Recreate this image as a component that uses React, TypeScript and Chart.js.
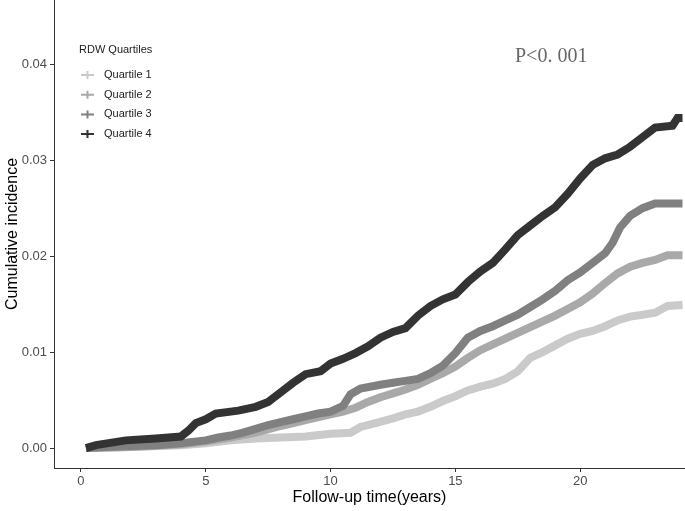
import React, { useEffect, useRef } from "react";
import { Chart, registerables } from "chart.js";

Chart.register(...registerables);

const seriesNames = ["Quartile 1", "Quartile 2", "Quartile 3", "Quartile 4"];
const seriesColors = ["#cacaca", "#a9a9a9", "#808080", "#333333"];

const q1Time = [0.3, 2, 4, 5, 6, 7, 8, 9, 10, 10.8, 11.2, 11.8, 12.5, 13, 13.5, 14, 14.5, 15, 15.5, 16, 16.5, 17, 17.5, 18, 18.5, 19, 19.5, 20, 20.5, 21, 21.5, 22, 22.5, 23, 23.5, 24.1];
const q1Value = [0, 0.0001, 0.0003, 0.0005, 0.0008, 0.001, 0.0011, 0.0012, 0.0015, 0.0016, 0.0022, 0.0026, 0.0031, 0.0035, 0.0038, 0.0043, 0.0049, 0.0054, 0.006, 0.0064, 0.0067, 0.0072, 0.008, 0.0094, 0.01, 0.0107, 0.0114, 0.0119, 0.0122, 0.0127, 0.0133, 0.0137, 0.0139, 0.0141, 0.0148, 0.0149];

const q2Time = [0.2, 2, 4, 5, 6, 7, 8, 9, 10, 10.5, 11, 11.5, 12, 12.5, 13, 13.5, 14, 14.5, 15, 15.5, 16, 16.5, 17, 17.5, 18, 18.5, 19, 19.5, 20, 20.5, 21, 21.5, 22, 22.5, 23, 23.5, 24.1];
const q2Value = [0, 0.0001, 0.0004, 0.0007, 0.0011, 0.0016, 0.0023, 0.0029, 0.0035, 0.0038, 0.0042, 0.0048, 0.0053, 0.0057, 0.0061, 0.0066, 0.0072, 0.0078, 0.0085, 0.0094, 0.0102, 0.0108, 0.0114, 0.012, 0.0126, 0.0132, 0.0138, 0.0145, 0.0152, 0.0161, 0.0172, 0.0182, 0.0189, 0.0193, 0.0196, 0.0201, 0.0201];

const q3Time = [0.2, 1, 2, 3, 4, 5, 5.5, 6, 6.5, 7, 7.5, 8, 8.5, 9, 9.5, 10, 10.5, 10.8, 11.2, 12, 12.5, 13, 13.5, 14, 14.5, 15, 15.5, 16, 16.5, 17, 17.5, 18, 18.5, 19, 19.5, 20, 20.5, 21, 21.3, 21.6, 22, 22.5, 23, 24.1];
const q3Value = [0, 0.0001, 0.0002, 0.0003, 0.0005, 0.0008, 0.0011, 0.0013, 0.0016, 0.002, 0.0024, 0.0027, 0.003, 0.0033, 0.0036, 0.0038, 0.0044, 0.0056, 0.0062, 0.0066, 0.0068, 0.007, 0.0072, 0.0078, 0.0086, 0.0099, 0.0115, 0.0122, 0.0127, 0.0133, 0.0139, 0.0147, 0.0155, 0.0164, 0.0175, 0.0183, 0.0193, 0.0203, 0.0214, 0.023, 0.0242, 0.025, 0.0255, 0.0255];

const q4Time = [0.2, 0.6, 1.8, 3, 4, 4.3, 4.6, 5, 5.4, 6.3, 7, 7.5, 8, 8.5, 9, 9.6, 10, 10.5, 11, 11.5, 12, 12.5, 13, 13.5, 14, 14.5, 15, 15.5, 16, 16.5, 17, 17.5, 18, 18.5, 19, 19.5, 20, 20.5, 21, 21.5, 22, 22.5, 23, 23.7, 23.9, 24.1];
const q4Value = [0, 0.0003, 0.0008, 0.001, 0.0012, 0.0018, 0.0026, 0.003, 0.0036, 0.0039, 0.0043, 0.0048, 0.0058, 0.0068, 0.0077, 0.008, 0.0088, 0.0093, 0.0099, 0.0106, 0.0115, 0.0121, 0.0125, 0.0138, 0.0148, 0.0155, 0.016, 0.0173, 0.0184, 0.0193, 0.0207, 0.0222, 0.0232, 0.0242, 0.0251, 0.0265, 0.0281, 0.0295, 0.0302, 0.0306, 0.0314, 0.0324, 0.0334, 0.0336, 0.0344, 0.0344];

const xTicks = [0, 5, 10, 15, 20];
const yTicks = [0, 0.01, 0.02, 0.03, 0.04];
const legendTitle = "RDW Quartiles";
const pText = "P<0. 001";
const xTitle = "Follow-up time(years)";
const yTitle = "Cumulative incidence";

const times = [q1Time, q2Time, q3Time, q4Time];
const values = [q1Value, q2Value, q3Value, q4Value];

const overlayPlugin = {
  id: "overlay",
  afterDraw(chart: any) {
    const ctx = chart.ctx;
    const area = chart.chartArea;
    ctx.save();
    ctx.textBaseline = "middle";
    ctx.textAlign = "left";
    ctx.fillStyle = "#222";
    ctx.font = "11px 'Liberation Sans', Arial, sans-serif";
    const lx = area.left + 25;
    ctx.fillText(legendTitle, lx, 50);
    seriesNames.forEach((name, i) => {
      const y = 75 + i * 19.7;
      ctx.strokeStyle = seriesColors[i];
      ctx.lineWidth = 2;
      ctx.beginPath();
      ctx.moveTo(lx + 2, y);
      ctx.lineTo(lx + 15, y);
      ctx.moveTo(lx + 8.5, y - 4);
      ctx.lineTo(lx + 8.5, y + 4);
      ctx.stroke();
      ctx.fillStyle = "#222";
      ctx.fillText(name, lx + 25, y);
    });
    ctx.fillStyle = "#666";
    ctx.font = "20px 'Liberation Serif', 'DejaVu Serif', serif";
    ctx.fillText(pText, 515, 57);
    ctx.restore();
  },
};

export default function App() {
  const ref = useRef<HTMLCanvasElement | null>(null);
  useEffect(() => {
    if (!ref.current) return;
    const datasets = seriesNames.map((name, i) => ({
      label: name,
      data: times[i].map((t, j) => ({ x: t, y: values[i][j] })),
      borderColor: seriesColors[i],
      backgroundColor: seriesColors[i],
      borderWidth: 8,
      tension: 0,
      pointRadius: 0,
      fill: false,
      order: 3 - i,
      borderCapStyle: "butt" as const,
      borderJoinStyle: "miter" as const,
    }));
    const tickFont = { family: "'Liberation Sans', Arial, sans-serif", size: 13 };
    const chart = new Chart(ref.current, {
      type: "line",
      data: { datasets },
      plugins: [overlayPlugin],
      options: {
        animation: false,
        responsive: true,
        maintainAspectRatio: false,
        layout: { padding: 0 },
        plugins: { legend: { display: false }, tooltip: { enabled: false } },
        scales: {
          x: {
            type: "linear",
            min: -1.08,
            max: 24.2,
            afterBuildTicks: (axis: any) => {
              axis.ticks = xTicks.map((v) => ({ value: v }));
            },
            afterFit: (axis: any) => {
              axis.height = 43;
              axis.paddingLeft = 0;
              axis.paddingRight = 0;
            },
            ticks: { color: "#4d4d4d", font: tickFont, padding: 2, maxRotation: 0, callback: (v: any) => String(v) },
            grid: { display: true, drawOnChartArea: false, drawTicks: true, tickLength: 4, color: "#333", lineWidth: 1 },
            border: { display: true, color: "#333", width: 1 },
            title: { display: true, text: xTitle, color: "#000", font: { family: "'Liberation Sans', Arial, sans-serif", size: 16 }, padding: { top: 0, bottom: 4 } },
          },
          y: {
            type: "linear",
            min: -0.00208,
            max: 0.0467,
            afterBuildTicks: (axis: any) => {
              axis.ticks = yTicks.map((v) => ({ value: v }));
            },
            afterFit: (axis: any) => {
              axis.width = 54;
              axis.paddingTop = 0;
              axis.paddingBottom = 0;
            },
            ticks: { color: "#4d4d4d", font: tickFont, padding: 3, callback: (v: any) => Number(v).toFixed(2) },
            grid: { display: true, drawOnChartArea: false, drawTicks: true, tickLength: 4, color: "#333", lineWidth: 1 },
            border: { display: true, color: "#333", width: 1 },
            title: { display: true, text: yTitle, color: "#000", font: { family: "'Liberation Sans', Arial, sans-serif", size: 16 }, padding: { top: 3, bottom: 0 } },
          },
        },
      },
    });
    return () => chart.destroy();
  }, []);
  return (
    <div style={{ position: "fixed", left: 0, top: 0, width: 685, height: 511, background: "#fff" }}>
      <canvas ref={ref} />
    </div>
  );
}
